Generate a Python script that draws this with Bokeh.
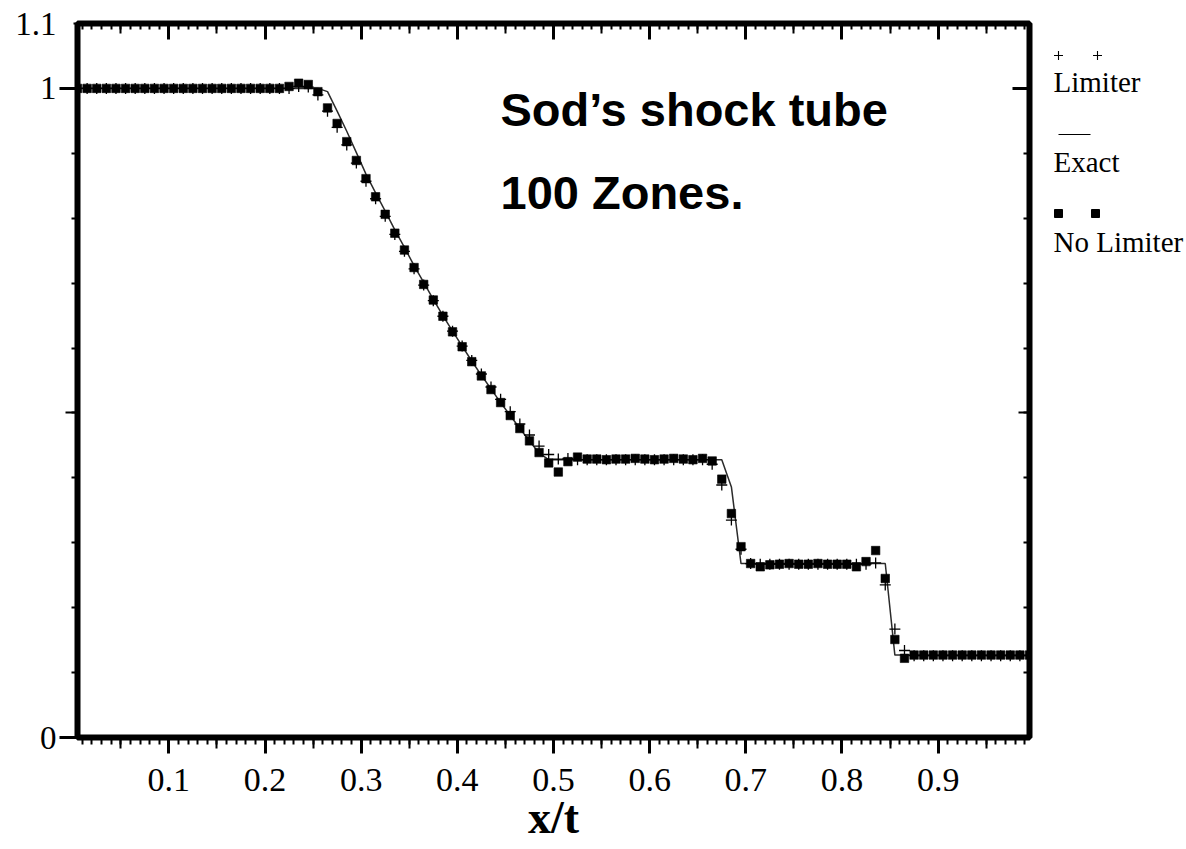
from bokeh.plotting import figure
from bokeh.models import FixedTicker, LinearAxis, Label, Range1d, ColumnDataSource
from bokeh.layouts import row
from bokeh.embed import file_html
from bokeh.resources import INLINE
from bokeh.core.properties import value

# ---------------- data ----------------
x_cells = [
    0.005, 0.015, 0.025, 0.035, 0.045, 0.055, 0.065, 0.075, 0.085, 0.095,
    0.105, 0.115, 0.125, 0.135, 0.145, 0.155, 0.165, 0.175, 0.185, 0.195,
    0.205, 0.215, 0.225, 0.235, 0.245, 0.255, 0.265, 0.275, 0.285, 0.295,
    0.305, 0.315, 0.325, 0.335, 0.345, 0.355, 0.365, 0.375, 0.385, 0.395,
    0.405, 0.415, 0.425, 0.435, 0.445, 0.455, 0.465, 0.475, 0.485, 0.495,
    0.505, 0.515, 0.525, 0.535, 0.545, 0.555, 0.565, 0.575, 0.585, 0.595,
    0.605, 0.615, 0.625, 0.635, 0.645, 0.655, 0.665, 0.675, 0.685, 0.695,
    0.705, 0.715, 0.725, 0.735, 0.745, 0.755, 0.765, 0.775, 0.785, 0.795,
    0.805, 0.815, 0.825, 0.835, 0.845, 0.855, 0.865, 0.875, 0.885, 0.895,
    0.905, 0.915, 0.925, 0.935, 0.945, 0.955, 0.965, 0.975, 0.985, 0.995,
]

exact = [
    1.000, 1.000, 1.000, 1.000, 1.000, 1.000, 1.000, 1.000, 1.000, 1.000,
    1.000, 1.000, 1.000, 1.000, 1.000, 1.000, 1.000, 1.000, 1.000, 1.000,
    1.000, 1.000, 1.000, 1.000, 1.000, 1.000, 0.995, 0.965, 0.934, 0.901,
    0.868, 0.839, 0.811, 0.782, 0.755, 0.727, 0.701, 0.675, 0.650, 0.626,
    0.603, 0.580, 0.558, 0.537, 0.516, 0.496, 0.476, 0.457, 0.438, 0.428,
    0.428, 0.428, 0.428, 0.428, 0.428, 0.428, 0.428, 0.428, 0.428, 0.428,
    0.428, 0.428, 0.428, 0.428, 0.428, 0.428, 0.428, 0.428, 0.386, 0.268,
    0.268, 0.268, 0.268, 0.268, 0.268, 0.268, 0.268, 0.268, 0.268, 0.268,
    0.268, 0.268, 0.268, 0.268, 0.268, 0.127, 0.127, 0.127, 0.127, 0.127,
    0.127, 0.127, 0.127, 0.127, 0.127, 0.127, 0.127, 0.127, 0.127, 0.127,
]

limiter = [
    1.000, 1.000, 1.000, 1.000, 1.000, 1.000, 1.000, 1.000, 1.000, 1.000,
    1.000, 1.000, 1.000, 1.000, 1.000, 1.000, 1.000, 1.000, 1.000, 1.000,
    1.000, 1.000, 1.000, 1.003, 1.002, 0.990, 0.965, 0.940, 0.913, 0.885,
    0.857, 0.830, 0.803, 0.775, 0.749, 0.722, 0.697, 0.673, 0.649, 0.626,
    0.603, 0.581, 0.560, 0.540, 0.521, 0.502, 0.483, 0.466, 0.449, 0.436,
    0.429, 0.430, 0.428, 0.428, 0.428, 0.428, 0.428, 0.428, 0.428, 0.428,
    0.428, 0.428, 0.428, 0.428, 0.428, 0.428, 0.421, 0.389, 0.335, 0.290,
    0.268, 0.267, 0.267, 0.267, 0.267, 0.267, 0.267, 0.267, 0.267, 0.267,
    0.267, 0.267, 0.267, 0.269, 0.235, 0.167, 0.134, 0.126, 0.126, 0.126,
    0.126, 0.126, 0.126, 0.126, 0.126, 0.126, 0.126, 0.126, 0.126, 0.126,
]

no_limiter = [
    1.000, 1.000, 1.000, 1.000, 1.000, 1.000, 1.000, 1.000, 1.000, 1.000,
    1.000, 1.000, 1.000, 1.000, 1.000, 1.000, 1.000, 1.000, 1.000, 1.000,
    1.000, 1.000, 1.003, 1.008, 1.006, 0.995, 0.970, 0.946, 0.918, 0.889,
    0.861, 0.833, 0.806, 0.777, 0.751, 0.724, 0.698, 0.674, 0.649, 0.625,
    0.602, 0.579, 0.557, 0.536, 0.516, 0.496, 0.476, 0.457, 0.439, 0.423,
    0.409, 0.425, 0.432, 0.429, 0.429, 0.428, 0.429, 0.429, 0.430, 0.429,
    0.428, 0.429, 0.430, 0.429, 0.428, 0.430, 0.426, 0.398, 0.345, 0.294,
    0.268, 0.263, 0.266, 0.267, 0.268, 0.267, 0.267, 0.268, 0.267, 0.267,
    0.267, 0.263, 0.271, 0.288, 0.245, 0.151, 0.122, 0.127, 0.127, 0.127,
    0.127, 0.127, 0.127, 0.127, 0.127, 0.127, 0.127, 0.127, 0.127, 0.127,
]

x_tick_values = [0.1, 0.2, 0.3, 0.4, 0.5, 0.6, 0.7, 0.8, 0.9]
x_tick_labels = ["0.1", "0.2", "0.3", "0.4", "0.5", "0.6", "0.7", "0.8", "0.9"]
y_tick_values = [0, 1, 1.1]
y_tick_labels = ["0", "1", "1.1"]

title_lines = ["Sod\u2019s shock tube", "100 Zones."]
legend_names = ["Limiter", "Exact", "No Limiter"]
x_axis_title = "x/t"

# ---------------- main figure ----------------
X0, X1, Y0, Y1 = 0.005, 0.995, 0.0, 1.1
p = figure(width=1034, height=849, output_backend="svg", toolbar_location=None,
           x_range=Range1d(X0, X1), y_range=Range1d(Y0, Y1),
           x_axis_location=None, y_axis_location=None,
           min_border_left=77, min_border_right=5,
           min_border_top=23, min_border_bottom=112)
p.grid.visible = False
p.background_fill_color = "white"
p.border_fill_color = "white"
p.outline_line_color = "black"
p.outline_line_width = 6

serif = "Liberation Serif"
minor_x = [round(0.01 * k, 2) for k in range(1, 100)]
medium_x = [round(0.05 + 0.1 * k, 2) for k in range(10)]
minor_y = [round(0.1 * k, 1) for k in range(1, 10)]


def tick_axis(side, positions, length, outward, width=2):
    """Axis that only draws one family of ticks (no labels, no reserved space)."""
    ax = LinearAxis(ticker=FixedTicker(ticks=[], minor_ticks=positions))
    ax.axis_line_color = None
    ax.major_tick_in = 0
    ax.major_tick_out = 0
    ax.minor_tick_out = 0
    ax.minor_tick_in = -length if outward else length
    ax.minor_tick_line_width = width
    ax.minor_tick_line_color = "black"
    ax.major_label_standoff = 0
    p.add_layout(ax, side)
    return ax


# bottom: outward ticks
tick_axis("below", x_tick_values, 16, True, width=3)
tick_axis("below", medium_x, 11, True, width=2)
bx = LinearAxis(ticker=FixedTicker(ticks=x_tick_values, minor_ticks=minor_x))
bx.axis_line_color = None
bx.major_tick_in = 0
bx.major_tick_out = 0
bx.minor_tick_in = -7
bx.minor_tick_out = 0
bx.minor_tick_line_width = 2
bx.minor_tick_line_color = "black"
bx.major_label_overrides = {t: l for t, l in zip(x_tick_values, x_tick_labels)}
bx.major_label_text_font = serif
bx.major_label_text_font_size = "34px"
bx.major_label_text_color = "black"
bx.major_label_standoff = 31
bx.axis_label = x_axis_title
bx.axis_label_text_font = serif
bx.axis_label_text_font_style = "bold"
bx.axis_label_text_font_size = "46px"
bx.axis_label_text_color = "black"
bx.axis_label_standoff = -2
p.add_layout(bx, "below")

# top: inward ticks
tick_axis("above", x_tick_values, 16, False, width=3)
tick_axis("above", medium_x, 10, False, width=2)
tick_axis("above", minor_x, 6, False, width=2)

# left: outward ticks with labels
tick_axis("left", [0, 1], 18, True, width=3)
tick_axis("left", [0.5], 12, True, width=2)
ly = LinearAxis(ticker=FixedTicker(ticks=y_tick_values, minor_ticks=minor_y))
ly.axis_line_color = None
ly.major_tick_in = 0
ly.major_tick_out = 4
ly.major_tick_line_width = 2
ly.major_tick_line_color = "black"
ly.minor_tick_in = 0
ly.minor_tick_out = 6
ly.minor_tick_line_width = 2
ly.minor_tick_line_color = "black"
ly.major_label_overrides = {t: l for t, l in zip(y_tick_values, y_tick_labels)}
ly.major_label_text_font = serif
ly.major_label_text_font_size = "33px"
ly.major_label_text_color = "black"
ly.major_label_standoff = 15
p.add_layout(ly, "left")

# right: inward ticks
tick_axis("right", [0, 1], 17, False, width=3)
tick_axis("right", [0.5], 11, False, width=2)
tick_axis("right", minor_y + [1.1], 6, False, width=2)

# ---------------- series ----------------
src = ColumnDataSource(dict(x=x_cells, exact=exact, lim=limiter, nolim=no_limiter))
p.line("x", "exact", source=src, line_color="#2b2b2b", line_width=1.5)
p.scatter("x", "lim", source=src, marker="cross", size=11, line_color="black",
          line_width=1.3)
p.scatter("x", "nolim", source=src, marker="square", size=8.5, fill_color="black",
          line_color="black", line_width=0.6)

# ---------------- annotation texts ----------------
sans = "Liberation Sans"
p.add_layout(Label(x=0.4449, y=0.9676, text=title_lines[0], text_font=sans,
                   text_font_style="bold", text_font_size="47px",
                   text_color="black", text_baseline="alphabetic"))
p.add_layout(Label(x=0.4449, y=0.8398, text=title_lines[1], text_font=sans,
                   text_font_style="bold", text_font_size="47px",
                   text_color="black", text_baseline="alphabetic"))

# ---------------- legend panel (right of the frame) ----------------
# its frame is aligned with the main frame (page rows 23..737), so the
# y range below is expressed in page pixel rows
leg = figure(width=152, height=849, output_backend="svg", toolbar_location=None,
             x_range=Range1d(0, 152), y_range=Range1d(737, 23),
             x_axis_location=None, y_axis_location=None, min_border=0)
leg.grid.visible = False
leg.outline_line_color = None
leg.background_fill_color = "white"
leg.border_fill_color = "white"

leg.scatter(x=[24, 63], y=[55, 55], marker="cross", size=9, line_color="black",
            line_width=1.1)
leg.line(x=[24, 56], y=[134, 134], line_color="black", line_width=1.2)
leg.scatter(x=[24, 61], y=[213, 213], marker="square", size=8, fill_color="black",
            line_color="black")
leg.text(x=[19, 19, 19], y=[81, 161, 241], text=legend_names,
         text_font=value(serif), text_font_size="29px", text_color="black",
         text_baseline="alphabetic", text_align="left")

layout = row(p, leg, spacing=0)
open("out.html", "w").write(file_html(layout, INLINE))
